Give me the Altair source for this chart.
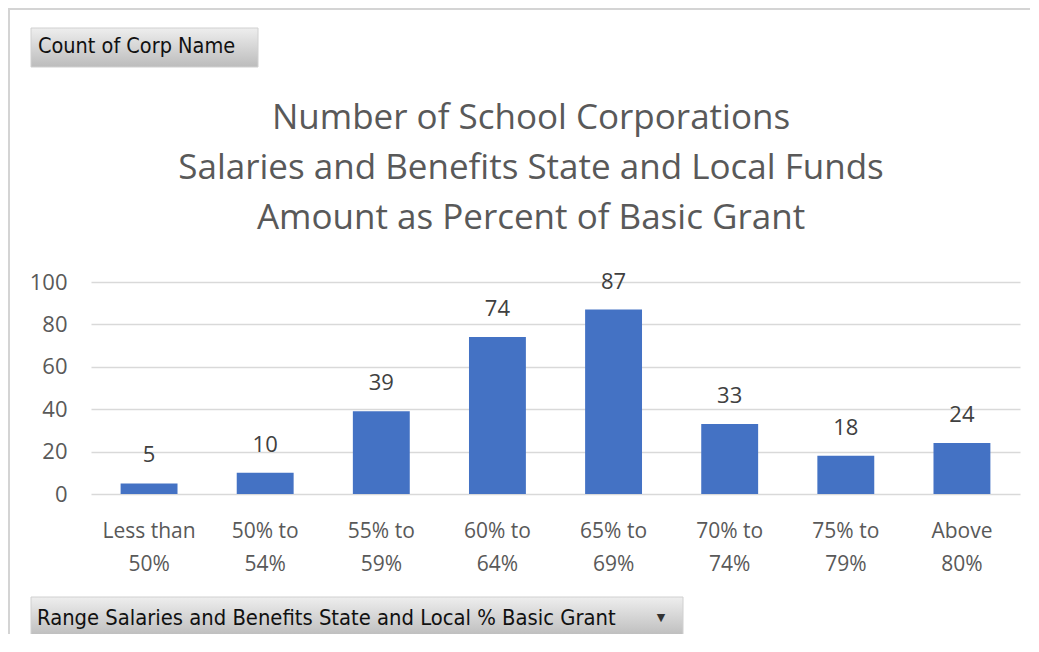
import altair as alt
import pandas as pd

categories = ["Less than 50%", "50% to 54%", "55% to 59%", "60% to 64%",
              "65% to 69%", "70% to 74%", "75% to 79%", "Above 80%"]
counts = [5, 10, 39, 74, 87, 33, 18, 24]
y_ticks = [0, 20, 40, 60, 80, 100]
title_lines = ["Number of School Corporations",
               "Salaries and Benefits State and Local Funds",
               "Amount as Percent of Basic Grant"]
value_button = "Count of Corp Name"
axis_button = "Range Salaries and Benefits State and Local % Basic Grant"

df = pd.DataFrame({"range": categories, "count": counts})
one = pd.DataFrame({"k": [0]})

W, H = 929, 212
TXT = "#595959"
FONT = "Open Sans"
BFONT = "DejaVu Sans Condensed"

x_enc = alt.X("range:N", sort=categories, title=None,
              scale=alt.Scale(paddingInner=0.51, paddingOuter=0.255),
              axis=alt.Axis(labelAngle=0, labelFontSize=21, labelColor=TXT,
                            labelFont=FONT, labelPadding=26, labelLineHeight=33,
                            labelBaseline="top", ticks=False, domain=False,
                            labelExpr="[substring(datum.label, 0, lastindexof(datum.label, ' ')), substring(datum.label, lastindexof(datum.label, ' ') + 1)]"))
y_enc = alt.Y("count:Q", title=None,
              scale=alt.Scale(domain=[0, 100], nice=False),
              axis=alt.Axis(values=y_ticks, labelFontSize=22, labelColor=TXT,
                            labelFont=FONT, labelPadding=24, ticks=False,
                            domain=False, grid=True, gridColor="#d9d9d9",
                            gridWidth=1.6))

base = alt.Chart(df)
bars = base.mark_bar(color="#4472C4").encode(x=x_enc, y=y_enc)
labels = base.mark_text(fontSize=22, color="#404040", font=FONT,
                        baseline="middle", dy=-28).encode(
    x=alt.X("range:N", sort=categories), y="count:Q", text="count:Q")

dec = alt.Chart(one)
title_layers = [
    dec.mark_text(text=t, fontSize=35, color=TXT, font=FONT, align="center",
                  baseline="middle").encode(x=alt.value(440), y=alt.value(yy))
    for t, yy in zip(title_lines, [-164, -114, -64])
]

grad = alt.Gradient(gradient="linear", x1=0, x2=0, y1=0, y2=1,
                    stops=[alt.GradientStop(color="#eeeeee", offset=0),
                           alt.GradientStop(color="#bcbcbc", offset=1)])
btn1 = dec.mark_rect(fill=grad, stroke="#d0d0d0", strokeWidth=1).encode(
    x=alt.value(-60), x2=alt.value(167), y=alt.value(-254), y2=alt.value(-215))
btn1_t = dec.mark_text(text=value_button, fontSize=21.5, font=BFONT, color="#111111",
                       align="left", baseline="middle").encode(
    x=alt.value(-53), y=alt.value(-235))
btn2 = dec.mark_rect(fill=grad, stroke="#d0d0d0", strokeWidth=1).encode(
    x=alt.value(-60), x2=alt.value(592), y=alt.value(315), y2=alt.value(355))
btn2_t = dec.mark_text(text=axis_button, fontSize=21.8, font=BFONT, color="#111111",
                       align="left", baseline="middle").encode(
    x=alt.value(-54), y=alt.value(336))
btn2_arrow = dec.mark_text(text="▼", fontSize=11, font="DejaVu Sans", color="#333333",
                           align="center", baseline="middle").encode(
    x=alt.value(570), y=alt.value(336))

top_border = dec.mark_rule(color="#d4d4d4", strokeWidth=2).encode(
    x=alt.value(-83), x2=alt.value(948), y=alt.value(-273))
left_border = dec.mark_rule(color="#d4d4d4", strokeWidth=2).encode(
    x=alt.value(-82), y=alt.value(-273), y2=alt.value(370))

chart = alt.layer(
    bars, labels, *title_layers, btn1, btn1_t, btn2, btn2_t, btn2_arrow,
    top_border, left_border
).properties(
    width=W, height=H,
    autosize=alt.AutoSizeParams(type="none"),
    padding={"left": 83, "top": 274, "right": 10, "bottom": 140},
    background="transparent",
).configure_view(stroke=None)

chart.save("out.html", embed_options={"renderer": "svg", "actions": False})
